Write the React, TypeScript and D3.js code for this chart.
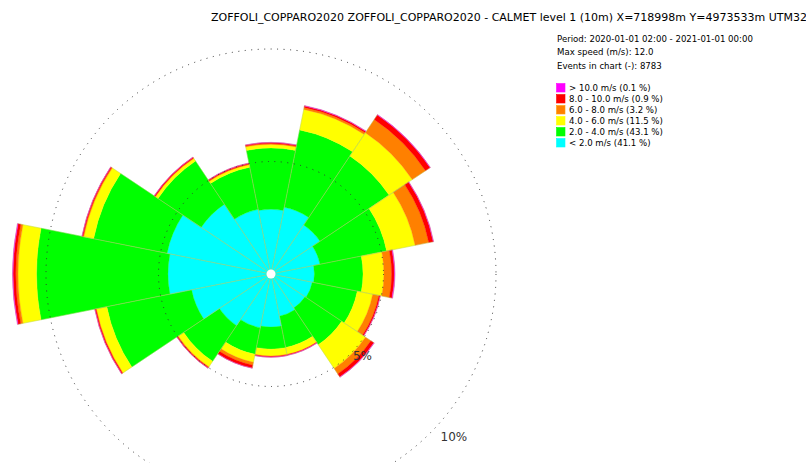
import React, { useEffect, useRef } from "react";
import * as d3 from "d3";

// ── Constants ─────────────────────────────────────────────────────────────────

const WIDTH = 806;
const HEIGHT = 463;
const CENTER = { x: 271, y: 274 };
const FONT = "DejaVu Sans, Verdana, sans-serif";

// ── Data (percent of events per direction and speed class) ──────────────────

const DIRECTIONS = [
  "N", "NNE", "NE", "ENE", "E", "ESE", "SE", "SSE",
  "S", "SSW", "SW", "WSW", "W", "WNW", "NW", "NNW",
];

const SPEED_LT2 = [2.88, 3.02, 2.62, 2.22, 1.93, 1.87, 1.82, 1.91, 2.36, 2.44, 2.76, 3.6, 4.58, 4.71, 3.73, 2.93];
const SPEED_2_4 = [2.72, 3.51, 3.69, 3.02, 2.16, 2.04, 1.96, 1.42, 0.98, 1.2, 1.91, 3.84, 5.84, 3.33, 2.31, 1.91];
const SPEED_4_6 = [0.16, 0.93, 1.24, 1.29, 0.93, 0.7, 1.27, 0.31, 0.3, 0.36, 0.29, 0.47, 0.82, 0.44, 0.13, 0.11];
const SPEED_6_8 = [0.04, 0.09, 0.71, 0.62, 0.34, 0.28, 0.29, 0.02, 0.03, 0.13, 0.04, 0.03, 0.1, 0.04, 0.03, 0.03];
const SPEED_8_10 = [0.04, 0.06, 0.24, 0.2, 0.12, 0.06, 0.16, 0.02, 0.02, 0.13, 0.03, 0.04, 0.12, 0.04, 0.04, 0.04];
const SPEED_GT10 = [0.01, 0.02, 0.02, 0.02, 0.03, 0.01, 0.02, 0.01, 0.01, 0.01, 0.01, 0.01, 0.03, 0.01, 0.01, 0.01];

// inner → outer
const SERIES = [SPEED_LT2, SPEED_2_4, SPEED_4_6, SPEED_6_8, SPEED_8_10, SPEED_GT10];
const COLORS = ["#00ffff", "#00ff00", "#ffff00", "#ff8000", "#ff0000", "#ff00ff"];

// legend, top → bottom
const LEGEND_LABELS = [
  "> 10.0 m/s (0.1 %)",
  "8.0 - 10.0 m/s (0.9 %)",
  "6.0 - 8.0 m/s (3.2 %)",
  "4.0 - 6.0 m/s (11.5 %)",
  "2.0 - 4.0 m/s (43.1 %)",
  "< 2.0 m/s (41.1 %)",
];
const LEGEND_COLORS = ["#ff00ff", "#ff0000", "#ff8000", "#ffff00", "#00ff00", "#00ffff"];

const INFO_LINES = [
  "Period: 2020-01-01 02:00 - 2021-01-01 00:00",
  "Max speed (m/s): 12.0",
  "Events in chart (-): 8783",
];

const GRID_PCT = [5, 10];
const TITLE =
  "ZOFFOLI_COPPARO2020 ZOFFOLI_COPPARO2020 - CALMET level 1 (10m) X=718998m Y=4973533m UTM32";

// ── D3 renderer ───────────────────────────────────────────────────────────────

function renderRose(svgEl: SVGSVGElement) {
  const svg = d3.select(svgEl);
  svg.selectAll("*").remove();

  const r = d3.scaleLinear().domain([0, 10]).range([0, 225]);
  const step = (2 * Math.PI) / DIRECTIONS.length;
  const angle = d3
    .scaleBand<string>()
    .domain(DIRECTIONS)
    .range([-step / 2, 2 * Math.PI - step / 2]);

  const g = svg.append("g").attr("transform", `translate(${CENTER.x},${CENTER.y})`);

  const arc = d3.arc<any>();

  // stacked wedges
  DIRECTIONS.forEach((dir, i) => {
    let acc = 0;
    SERIES.forEach((values, k) => {
      const v = values[i];
      const a0 = angle(dir) ?? 0;
      g.append("path")
        .attr(
          "d",
          arc({
            innerRadius: r(acc),
            outerRadius: r(acc + v),
            startAngle: a0,
            endAngle: a0 + angle.bandwidth(),
          })
        )
        .attr("fill", COLORS[k])
        .attr("stroke", COLORS[k])
        .attr("stroke-width", 0.3);
      acc += v;
    });
  });

  // thin separators between sectors
  DIRECTIONS.forEach((dir, i) => {
    const total = d3.sum(SERIES, (s) => s[i]);
    const a0 = angle(dir) ?? 0;
    g.append("path")
      .attr(
        "d",
        arc({
          innerRadius: 0,
          outerRadius: r(total),
          startAngle: a0,
          endAngle: a0 + angle.bandwidth(),
        })
      )
      .attr("fill", "none")
      .attr("stroke", "#a8c860")
      .attr("stroke-opacity", 0.75)
      .attr("stroke-width", 0.5);
  });

  // dotted grid circles
  g.selectAll("circle.grid")
    .data(GRID_PCT)
    .join("circle")
    .attr("class", "grid")
    .attr("r", (d) => r(d))
    .attr("fill", "none")
    .attr("stroke", "#333")
    .attr("stroke-width", 1)
    .attr("stroke-dasharray", "1,5.5");

  // grid labels, along the SE diagonal
  const labelAngle = (131.5 * Math.PI) / 180;
  g.selectAll("text.grid")
    .data(GRID_PCT)
    .join("text")
    .attr("class", "grid")
    .attr("x", (d) => r(d) * 1.085 * Math.sin(labelAngle))
    .attr("y", (d) => -r(d) * 1.085 * Math.cos(labelAngle) + 1)
    .attr("dy", "0.35em")
    .attr("text-anchor", "middle")
    .attr("font-family", FONT)
    .attr("font-size", 12)
    .attr("fill", "#333")
    .text((d) => `${d}%`);

  // white hub
  g.append("circle").attr("r", 4.5).attr("fill", "#fff");

  // title
  svg
    .append("text")
    .attr("x", 211)
    .attr("y", 21)
    .attr("font-family", FONT)
    .attr("font-size", 11)
    .attr("fill", "#000")
    .text(TITLE);

  // info block
  svg
    .selectAll("text.info")
    .data(INFO_LINES)
    .join("text")
    .attr("class", "info")
    .attr("x", 557)
    .attr("y", (_, i) => 41.5 + i * 13.8)
    .attr("font-family", FONT)
    .attr("font-size", 8.6)
    .attr("fill", "#000")
    .text((d) => d);

  // legend
  const legend = svg.append("g").attr("transform", "translate(556,83)");
  LEGEND_LABELS.forEach((label, i) => {
    legend
      .append("rect")
      .attr("x", 0.5)
      .attr("y", i * 11 + 0.5)
      .attr("width", 8.5)
      .attr("height", 8.5)
      .attr("fill", LEGEND_COLORS[i])
      .attr("stroke", d3.color(LEGEND_COLORS[i])?.brighter(0.6).formatHex() ?? "#fff")
      .attr("stroke-width", 0.6);
    legend
      .append("text")
      .attr("x", 13)
      .attr("y", i * 11 + 7.8)
      .attr("font-family", FONT)
      .attr("font-size", 8.6)
      .attr("fill", "#000")
      .text(label);
  });
}

// ── Component ─────────────────────────────────────────────────────────────────

export default function App() {
  const svgRef = useRef<SVGSVGElement>(null);

  useEffect(() => {
    if (svgRef.current) renderRose(svgRef.current);
  }, []);

  return (
    <div style={{ position: "absolute", left: 0, top: 0, width: WIDTH, height: HEIGHT, background: "#fff" }}>
      <svg ref={svgRef} width={WIDTH} height={HEIGHT} style={{ display: "block" }} />
    </div>
  );
}
